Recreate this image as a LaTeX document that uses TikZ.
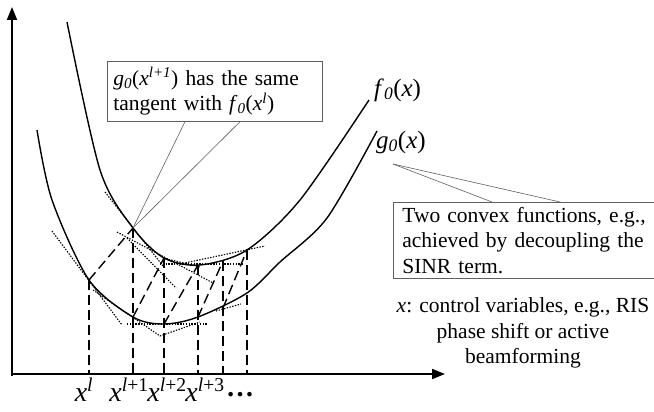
\documentclass[tikz,border=0pt]{standalone}
\usepackage{fontspec}
\setmainfont{Liberation Serif}
\usetikzlibrary{arrows.meta}
\definecolor{pointerGray}{RGB}{95,95,95}

\newcommand{\fnsub}[2]{\textit{#1}\textsubscript{\textit{0}}(\textit{#2})}
\newcommand{\xit}[1]{\textit{x}\textsuperscript{#1}}

\tikzset{
  axisline/.style={line width=2pt, -{Triangle[length=13pt,width=10pt]}},
  curveline/.style={line width=1.4pt},
  dropline/.style={line width=1.4pt, dash pattern=on 10pt off 5pt},
  tanline/.style={line width=1.1pt, dash pattern=on 1.4pt off 1.4pt},
  pointer/.style={pointerGray, line width=0.6pt},
  notebox/.style={draw=pointerGray, line width=0.7pt, align=left, inner xsep=6pt, inner ysep=2pt},
  ticklabel/.style={font=\fontsize{28}{28}\selectfont, inner sep=0pt, anchor=base},
  funclabel/.style={font=\fontsize{25}{25}\selectfont, inner sep=0pt, anchor=base west},
}

\begin{document}
\begin{tikzpicture}[x=1pt, y=-1pt, font=\fontsize{21.5}{25.5}\selectfont]
\useasboundingbox (0,0) rectangle (654,412);

% axes
\coordinate (origin) at (12,374);
\draw[axisline] (12,376) -- (12,7);
\draw[axisline] (11,374) -- (445,374);

% f_0 and g_0
\draw[curveline] plot[smooth] coordinates {(67,22) (100,170) (133,228) (164,258) (200,265) (247,250) (300,200) (369,100)};
\draw[curveline] plot[smooth] coordinates {(37,130) (52,200) (89,280) (133,317) (164,324) (198,317) (247,293) (280,262) (327,218) (377,131)};

% iterates
\coordinate (g1) at (89,280);
\coordinate (f1) at (133,228);
\coordinate (g2) at (133,317);
\coordinate (f2) at (164,258);
\coordinate (g3) at (164,324);
\coordinate (f3) at (198,265);
\coordinate (g4) at (198,317);
\coordinate (f4) at (223,261);
\coordinate (g5) at (223,308);
\coordinate (f5) at (247,250);

\foreach \p in {g1,f1,f2,f3,f4,f5}
  \draw[dropline] (\p) -- (\p |- origin);
\foreach \a/\b in {g1/f1,g2/f2,g3/f3,g4/f4,g5/f5}
  \draw[dropline] (\a) -- (\b);

% tangents
\draw[tanline] (105,192) -- (163,266);
\draw[tanline] (117,232) -- (213,283);
\draw[tanline] (127,238) -- (176,288);
\draw[tanline] (160,264) -- (243,264);
\draw[tanline] (163,258) -- (200,267);
\draw[tanline] (180,264) -- (265,246);
\draw[tanline] (52,231) -- (122,325);
\draw[tanline] (93,290) -- (160,336) -- (200,322);
\draw[tanline] (127,324) -- (207,324);
\draw[tanline] (216,311) -- (241,304);

% tick labels
\node[ticklabel] (xl)  at (84,401)  {\xit{\textit{l}}};
\node[ticklabel] (xl1) at (129,401) {\xit{\textit{l}+1}};
\node[ticklabel] (xl2) at (167,401) {\xit{\textit{l}+2}};
\node[ticklabel] (xl3) at (205,401) {\xit{\textit{l}+3}};
\node[ticklabel] (xdots) at (240,396) {\textbf{\dots}};

% function labels
\node[funclabel] (f0lab) at (374,96) {\fnsub{f}{x}};
\node[funclabel] (g0lab) at (376,148) {\fnsub{g}{x}};

% notes
\node[notebox, anchor=north west, text width=203pt, minimum height=60pt] (tanbox) at (107,61)
  {\fnsub{g}{x\textsuperscript{\textit{l}+1}} has the same\\tangent with \fnsub{f}{x\textsuperscript{\textit{l}}}};
\draw[pointer] (f1) -- ([xshift=78pt]tanbox.south west);
\draw[pointer] (f1) -- ([xshift=133pt]tanbox.south west);

\coordinate (gtip) at (393,164);
\node[notebox, anchor=north west, text width=245pt, inner xsep=9pt, minimum height=76pt] (convbox) at (393,202)
  {Two convex functions, e.g.,\\achieved by decoupling the\\SINR term.};
\draw[pointer] (gtip) -- ([xshift=99pt]convbox.north west);
\draw[pointer] (gtip) -- ([xshift=167pt]convbox.north west);

\node[align=center] (ctrlnote) at (523,333)
  {\textit{x}: control variables, e.g., RIS\\phase shift or active\\beamforming};
\end{tikzpicture}
\end{document}
